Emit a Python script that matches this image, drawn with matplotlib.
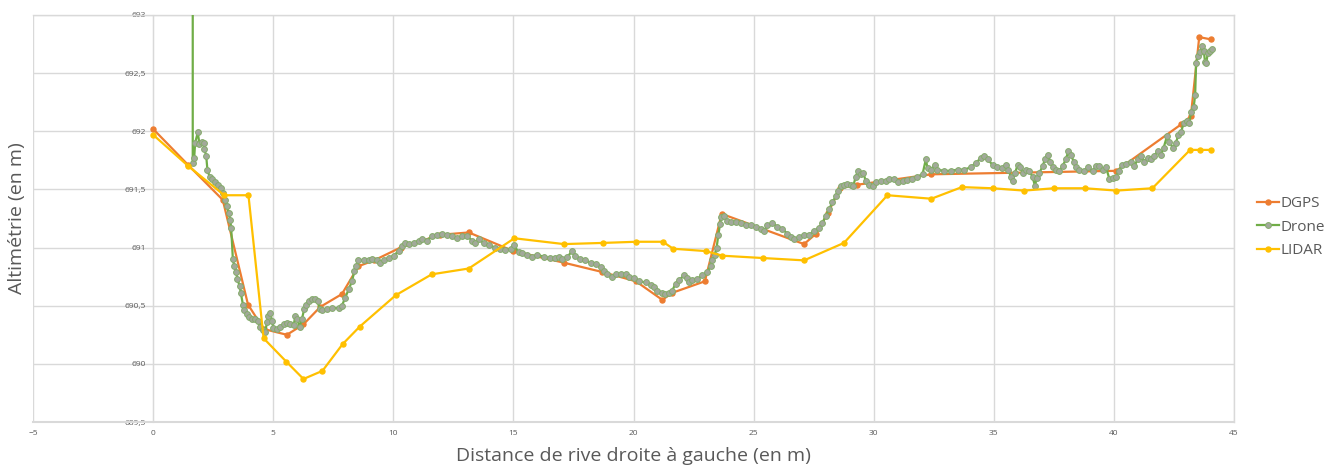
import matplotlib
matplotlib.use("Agg")
import matplotlib.pyplot as plt
from matplotlib.ticker import FuncFormatter

plt.rcParams['font.family'] = ['Open Sans', 'DejaVu Sans']

# --- données ---
dgps_x = [0.0, 1.46, 2.90, 3.95, 4.60, 5.57, 6.26, 6.96, 7.86, 8.55, 9.20,
          10.30, 11.96, 13.14, 15.00, 17.10, 18.70, 20.10, 21.20, 21.60, 22.97,
          23.67, 27.10, 27.60, 28.10, 28.60, 29.30, 32.40, 40.10, 42.80, 43.20,
          43.55, 44.04]
dgps_y = [692.02, 691.71, 691.41, 690.51, 690.30, 690.25, 690.34, 690.49, 690.60,
          690.84, 690.89, 691.00, 691.11, 691.13, 690.97, 690.87, 690.79, 690.71,
          690.55, 690.61, 690.71, 691.29, 691.03, 691.12, 691.30, 691.51, 691.54,
          691.63, 691.66, 692.06, 692.13, 692.81, 692.79]

drone_x = [1.65, 1.65, 1.71, 1.75, 1.86, 1.93, 2.03, 2.10, 2.13, 2.21, 2.26, 2.35,
           2.45, 2.58, 2.72, 2.82, 2.93, 3.00, 3.07, 3.14, 3.21, 3.25, 3.32, 3.38,
           3.46, 3.51, 3.60, 3.65, 3.74, 3.79, 3.90, 4.01, 4.11, 4.25, 4.35, 4.46,
           4.57, 4.67, 4.74, 4.80, 4.88, 4.95, 5.01, 5.15, 5.29, 5.43, 5.57, 5.71,
           5.85, 5.92, 5.99, 6.10, 6.20, 6.29, 6.38, 6.47, 6.61, 6.75, 6.85, 6.93,
           7.03, 7.24, 7.45, 7.72, 7.86, 8.00, 8.14, 8.28, 8.38, 8.46, 8.55, 8.76,
           8.97, 9.11, 9.32, 9.46, 9.60, 9.80, 10.01, 10.22, 10.36, 10.50, 10.64,
           10.85, 11.05, 11.20, 11.40, 11.61, 11.82, 12.03, 12.24, 12.45, 12.65,
           12.86, 13.07, 13.28, 13.42, 13.55, 13.76, 13.97, 14.25, 14.46, 14.67,
           14.88, 15.01, 15.22, 15.36, 15.57, 15.78, 15.99, 16.26, 16.54, 16.75,
           16.89, 17.03, 17.24, 17.45, 17.58, 17.79, 18.00, 18.21, 18.42, 18.63,
           18.76, 18.90, 19.11, 19.25, 19.46, 19.67, 19.80, 20.01, 20.22, 20.50,
           20.71, 20.85, 20.99, 21.20, 21.33, 21.47, 21.61, 21.75, 21.89, 22.10,
           22.21, 22.30, 22.45, 22.65, 22.86, 23.07, 23.21, 23.28, 23.38, 23.46,
           23.53, 23.60, 23.65, 23.76, 23.90, 24.04, 24.25, 24.46, 24.67, 24.88,
           25.08, 25.29, 25.43, 25.57, 25.78, 25.99, 26.20, 26.40, 26.54, 26.68,
           26.89, 27.10, 27.30, 27.51, 27.72, 27.86, 28.00, 28.14, 28.28, 28.42,
           28.51, 28.63, 28.76, 28.90, 29.04, 29.15, 29.25, 29.35, 29.46, 29.57,
           29.67, 29.80, 29.95, 30.08, 30.29, 30.50, 30.64, 30.85, 30.99, 31.20,
           31.40, 31.61, 31.82, 32.03, 32.17, 32.24, 32.38, 32.54, 32.65, 32.93,
           33.21, 33.49, 33.76, 34.04, 34.25, 34.46, 34.57, 34.74, 34.95, 35.15,
           35.36, 35.50, 35.60, 35.71, 35.78, 35.88, 35.99, 36.10, 36.20, 36.33,
           36.47, 36.61, 36.71, 36.79, 36.89, 37.03, 37.13, 37.24, 37.35, 37.45,
           37.58, 37.72, 37.86, 38.00, 38.10, 38.21, 38.32, 38.42, 38.55, 38.76,
           38.93, 39.11, 39.25, 39.39, 39.53, 39.67, 39.81, 39.95, 40.08, 40.22,
           40.32, 40.50, 40.71, 40.85, 40.99, 41.13, 41.26, 41.40, 41.54, 41.68,
           41.82, 41.96, 42.07, 42.21, 42.30, 42.45, 42.58, 42.68, 42.79, 42.90,
           43.04, 43.14, 43.21, 43.32, 43.38, 43.42, 43.49, 43.60, 43.65, 43.74,
           43.79, 43.85, 43.90, 44.01, 44.07]
drone_y = [695.00, 691.73, 691.77, 691.90, 691.99, 691.89, 691.91, 691.90, 691.85,
           691.79, 691.67, 691.61, 691.59, 691.56, 691.54, 691.51, 691.47, 691.41,
           691.36, 691.30, 691.24, 691.17, 690.90, 690.84, 690.79, 690.73, 690.67,
           690.61, 690.51, 690.46, 690.43, 690.40, 690.39, 690.39, 690.37, 690.32,
           690.29, 690.27, 690.36, 690.41, 690.44, 690.37, 690.31, 690.30, 690.32,
           690.34, 690.35, 690.34, 690.33, 690.41, 690.39, 690.32, 690.39, 690.47,
           690.51, 690.54, 690.56, 690.56, 690.54, 690.47, 690.46, 690.47, 690.48,
           690.48, 690.50, 690.57, 690.64, 690.71, 690.80, 690.84, 690.89, 690.89,
           690.89, 690.90, 690.89, 690.87, 690.89, 690.91, 690.93, 690.97, 691.01,
           691.04, 691.03, 691.04, 691.06, 691.07, 691.06, 691.10, 691.11, 691.12,
           691.11, 691.10, 691.08, 691.10, 691.10, 691.06, 691.04, 691.07, 691.04,
           691.02, 691.00, 690.99, 690.98, 690.99, 691.02, 690.96, 690.95, 690.94,
           690.92, 690.94, 690.92, 690.91, 690.91, 690.92, 690.90, 690.92, 690.97,
           690.93, 690.90, 690.89, 690.87, 690.86, 690.83, 690.80, 690.77, 690.75,
           690.77, 690.77, 690.77, 690.75, 690.74, 690.71, 690.70, 690.68, 690.66,
           690.63, 690.61, 690.60, 690.61, 690.63, 690.69, 690.72, 690.76, 690.74,
           690.70, 690.72, 690.73, 690.76, 690.79, 690.84, 690.89, 690.94, 691.00,
           691.11, 691.20, 691.26, 691.27, 691.23, 691.22, 691.22, 691.21, 691.19,
           691.19, 691.18, 691.16, 691.14, 691.19, 691.21, 691.18, 691.16, 691.12,
           691.09, 691.07, 691.09, 691.11, 691.11, 691.14, 691.17, 691.21, 691.27,
           691.33, 691.39, 691.44, 691.49, 691.53, 691.54, 691.55, 691.54, 691.53,
           691.61, 691.66, 691.63, 691.64, 691.57, 691.54, 691.53, 691.56, 691.57,
           691.57, 691.59, 691.59, 691.56, 691.57, 691.58, 691.59, 691.61, 691.63,
           691.76, 691.68, 691.67, 691.71, 691.67, 691.66, 691.66, 691.67, 691.67,
           691.69, 691.73, 691.77, 691.79, 691.76, 691.71, 691.69, 691.68, 691.71,
           691.67, 691.61, 691.57, 691.64, 691.71, 691.69, 691.64, 691.67, 691.66,
           691.61, 691.53, 691.60, 691.64, 691.70, 691.76, 691.80, 691.74, 691.69,
           691.67, 691.66, 691.70, 691.76, 691.83, 691.80, 691.74, 691.69, 691.67,
           691.66, 691.69, 691.66, 691.70, 691.70, 691.67, 691.69, 691.59, 691.60,
           691.61, 691.66, 691.71, 691.72, 691.74, 691.70, 691.76, 691.79, 691.74,
           691.77, 691.76, 691.79, 691.83, 691.80, 691.86, 691.96, 691.91, 691.86,
           691.90, 691.97, 691.99, 692.07, 692.09, 692.07, 692.17, 692.21, 692.31,
           692.59, 692.65, 692.68, 692.73, 692.69, 692.60, 692.59, 692.67, 692.69,
           692.71]

lidar_x = [0.0, 1.47, 2.96, 3.97, 4.60, 5.54, 6.26, 7.05, 7.89, 8.60, 10.10, 11.60,
           13.14, 15.04, 17.10, 18.72, 20.12, 21.22, 21.65, 23.00, 23.70, 25.39,
           27.10, 28.76, 30.57, 32.40, 33.67, 34.95, 36.26, 37.50, 38.80, 40.10,
           41.60, 43.17, 43.58, 44.04]
lidar_y = [691.97, 691.70, 691.45, 691.45, 690.22, 690.02, 689.87, 689.94, 690.17,
           690.32, 690.59, 690.77, 690.82, 691.08, 691.03, 691.04, 691.05, 691.05,
           690.99, 690.97, 690.93, 690.91, 690.89, 691.04, 691.45, 691.42, 691.52,
           691.51, 691.49, 691.51, 691.51, 691.49, 691.51, 691.84, 691.84, 691.84]

x_ticks = [-5, 0, 5, 10, 15, 20, 25, 30, 35, 40, 45]
y_ticks = [689.5, 690, 690.5, 691, 691.5, 692, 692.5, 693]

GRID = "#D9D9D9"
TXT = "#595959"

fig = plt.figure(figsize=(13.36, 4.73), dpi=100)
ax = fig.add_axes([0.0247, 0.1078, 0.899, 0.8605])

ax.plot(dgps_x, dgps_y, color="#ED7D31", lw=1.6, marker="o", ms=3.6,
        label="DGPS", zorder=3)
ax.plot(drone_x, drone_y, color="#70AD47", lw=1.6, marker="o", ms=4.2,
        markerfacecolor="#A2A99B", markeredgecolor="#84AC6A", markeredgewidth=0.7,
        label="Drone", zorder=4)
ax.plot(lidar_x, lidar_y, color="#FFC000", lw=1.6, marker="o", ms=3.6,
        label="LIDAR", zorder=5)

ax.set_xlim(-5, 45)
ax.set_ylim(689.5, 693)
ax.set_xticks(x_ticks)
ax.set_yticks(y_ticks)
ax.yaxis.set_major_formatter(FuncFormatter(lambda v, p: f"{v:g}".replace(".", ",")))
ax.grid(True, color=GRID, lw=1.0, zorder=0)
ax.set_axisbelow(True)

for s in ["top", "right", "bottom"]:
    ax.spines[s].set_color(GRID)
    ax.spines[s].set_linewidth(1.0)
ax.spines["bottom"].set_linewidth(1.5)
ax.spines["left"].set_position(("data", 0))
ax.spines["left"].set_color(GRID)
ax.tick_params(axis="both", length=0, labelsize=6, labelcolor=TXT)
ax.tick_params(axis="x", pad=6)
ax.tick_params(axis="y", pad=5)

ax.set_xlabel("Distance de rive droite à gauche (en m)", fontsize=14, color=TXT,
              labelpad=7)
fig.text(0.013, 0.538, "Altimétrie (en m)", rotation=90, fontsize=14, color=TXT,
         ha="center", va="center")

leg = ax.legend(loc="center left", bbox_to_anchor=(0.9365, 0.52),
                bbox_transform=fig.transFigure, frameon=False, fontsize=11,
                handlelength=1.45, handletextpad=0.05, labelspacing=0.55,
                borderaxespad=0)
for t in leg.get_texts():
    t.set_color(TXT)

fig.savefig("out.png", dpi=100)
